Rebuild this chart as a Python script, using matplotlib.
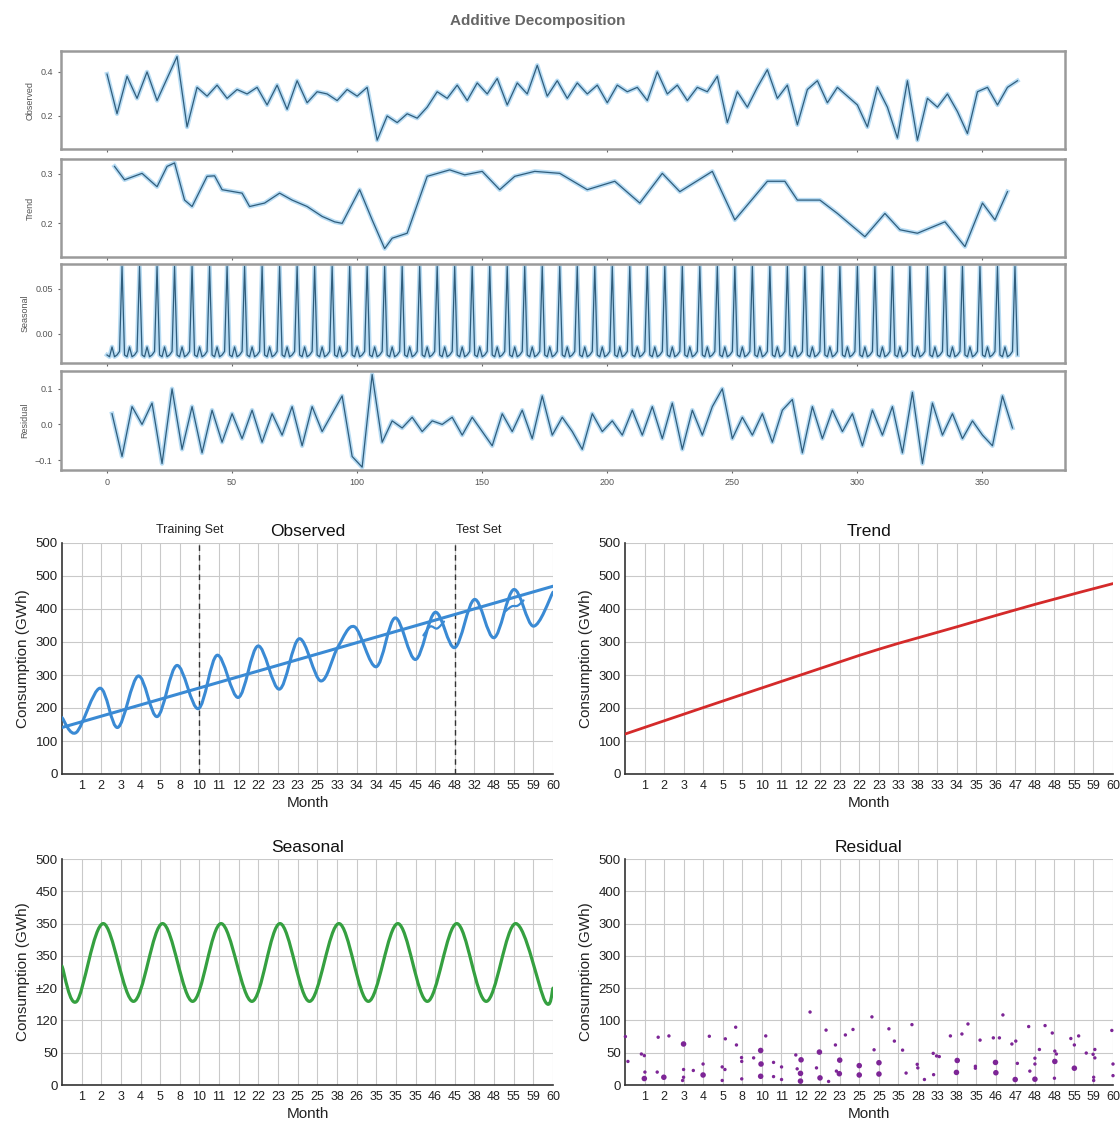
import numpy as np
import matplotlib
matplotlib.use("Agg")
import matplotlib.pyplot as plt
from matplotlib.path import Path
from matplotlib.patches import PathPatch

plt.rcParams["font.family"] = ["Liberation Sans", "DejaVu Sans"]

# ---------------------------------------------------------------------------
# top block: daily additive decomposition
# ---------------------------------------------------------------------------
OBS_DAYS = np.arange(0, 365, 4)
OBS_VALUES = [
    0.39, 0.21, 0.38, 0.28, 0.40, 0.27, 0.37, 0.47, 0.15, 0.33,
    0.29, 0.34, 0.28, 0.32, 0.30, 0.33, 0.25, 0.34, 0.23, 0.36,
    0.26, 0.31, 0.30, 0.27, 0.32, 0.29, 0.33, 0.09, 0.20, 0.17,
    0.21, 0.19, 0.24, 0.31, 0.28, 0.34, 0.27, 0.35, 0.30, 0.37,
    0.25, 0.35, 0.30, 0.43, 0.29, 0.36,
    0.28, 0.35, 0.30, 0.34, 0.26, 0.34, 0.31, 0.33, 0.27, 0.40,
    0.30, 0.34, 0.27, 0.33, 0.31, 0.38, 0.17, 0.31, 0.24, 0.33,
    0.41, 0.28, 0.34, 0.16, 0.32, 0.36, 0.26, 0.33, 0.29, 0.25,
    0.15, 0.33, 0.24, 0.10, 0.36, 0.09, 0.28, 0.24, 0.30, 0.22,
    0.12, 0.31, 0.33, 0.25, 0.33, 0.36,
]

TREND_DAYS = [3, 7, 14, 20, 24, 27, 31, 34, 40, 43, 46, 54, 57, 63, 69, 74,
              80, 86, 91, 94, 101, 106, 111, 114, 120, 128, 137, 143, 150,
              157, 163, 171, 181, 192, 203, 213, 222, 229, 242, 251, 264,
              271, 276, 285, 292, 303, 311, 317, 324, 335, 343, 350, 355,
              360]
TREND_VALUES = [0.315, 0.288, 0.301, 0.274, 0.315, 0.322, 0.247, 0.234,
                0.295, 0.296, 0.268, 0.261, 0.234, 0.241, 0.261, 0.247,
                0.234, 0.214, 0.203, 0.200, 0.268, 0.207, 0.149, 0.170,
                0.180, 0.295, 0.308, 0.298, 0.305, 0.268, 0.295, 0.305,
                0.301, 0.268, 0.285, 0.241, 0.301, 0.264, 0.305, 0.207,
                0.285, 0.285, 0.247, 0.247, 0.220, 0.173, 0.220, 0.187,
                0.180, 0.203, 0.153, 0.241, 0.207, 0.264]

# one week of the seasonal component, repeated over the year
SEASON_WEEK = [-0.024, -0.026, -0.015, -0.026, -0.024, -0.020, 0.075]
SEASON_DAYS = np.arange(365)
SEASON_VALUES = np.resize(SEASON_WEEK, SEASON_DAYS.size)

RESID_DAYS = np.arange(2, 363, 4)
RESID_VALUES = [
    0.03, -0.09, 0.05, 0.00, 0.06, -0.11, 0.10, -0.07, 0.05, -0.08,
    0.04, -0.05, 0.03, -0.04, 0.04, -0.05, 0.03, -0.03, 0.05, -0.06,
    0.05, -0.02, 0.03, 0.08, -0.09, -0.12, 0.14, -0.05, 0.01, -0.01,
    0.02, -0.02, 0.01, 0.00, 0.02, -0.03, 0.02, -0.02, -0.06, 0.03,
    -0.02, 0.04, -0.04, 0.08, -0.03, 0.02, -0.02, -0.07, 0.03, -0.02,
    0.01, -0.03, 0.04, -0.03, 0.05, -0.04, 0.06, -0.07, 0.04, -0.03,
    0.05, 0.10, -0.04, 0.02, -0.03, 0.03, -0.05, 0.04, 0.07, -0.08,
    0.05, -0.04, 0.04, -0.02, 0.03, -0.06, 0.04, -0.03, 0.05, -0.08,
    0.09, -0.11, 0.06, -0.03, 0.03, -0.04, 0.01, -0.03, -0.06, 0.08,
    -0.01,
]

TOP_PANELS = [
    ("Observed", OBS_DAYS, OBS_VALUES, (0.05, 0.495), [0.2, 0.4], ["0.2", "0.4"]),
    ("Trend", TREND_DAYS, TREND_VALUES, (0.132, 0.330), [0.2, 0.3], ["0.2", "0.3"]),
    ("Seasonal", SEASON_DAYS, SEASON_VALUES, (-0.033, 0.0778), [0.0, 0.05], ["0.00", "0.05"]),
    ("Residual", RESID_DAYS, RESID_VALUES, (-0.128, 0.15), [-0.1, 0.0, 0.1], ["\u22120.1", "0.0", "0.1"]),
]
TOP_XTICKS = [0, 50, 100, 150, 200, 250, 300, 350]

# ---------------------------------------------------------------------------
# bottom block: monthly toy decomposition (axis units 0..700, odd tick labels)
# ---------------------------------------------------------------------------
MONTH_POS = np.arange(1, 26)
OBS_XLABELS = ["1", "2", "3", "4", "5", "8", "10", "11", "12", "22", "23", "23", "25",
               "33", "34", "34", "45", "45", "46", "48", "32", "48", "55", "59", "60"]
TREND_XLABELS = ["1", "2", "3", "4", "5", "5", "10", "11", "12", "22", "23", "22", "23",
                 "33", "38", "33", "34", "35", "36", "47", "48", "48", "55", "59", "60"]
SEAS_XLABELS = ["1", "2", "3", "4", "5", "8", "10", "11", "12", "22", "23", "25", "25",
                "38", "26", "35", "35", "35", "46", "45", "38", "48", "55", "59", "60"]
RESID_XLABELS = ["1", "2", "3", "4", "5", "8", "10", "11", "12", "22", "23", "25", "25",
                 "35", "28", "33", "38", "35", "46", "47", "48", "48", "55", "59", "60"]

Y_POS = [0, 100, 200, 300, 400, 500, 600, 700]
OBS_YLABELS = ["0", "100", "200", "300", "300", "400", "500", "500"]
TREND_YLABELS = ["0", "100", "200", "300", "300", "400", "500", "500"]
SEAS_YLABELS = ["0", "50", "120", "\u00b120", "350", "350", "450", "500"]
RESID_YLABELS = ["0", "50", "100", "250", "300", "300", "400", "500"]

# observed: turning points of the wavy series
OBS_X = [0, 0.73, 1.93, 2.84, 3.88, 4.85, 5.85, 6.94, 7.9, 8.98, 9.98, 11.07,
         12.08, 13.17, 14.05, 14.9, 16.0, 16.96, 18.0, 19.0, 20.0, 21.0, 22.0,
         23.0, 24.0, 25.0]
OBS_Y = [171, 126, 260, 141, 297, 174, 329, 198, 360, 232, 388, 257, 410, 282,
         385, 446, 325, 473, 347, 490, 383, 529, 413, 559, 448, 551]
OBS_FIT_X = [0, 25]
OBS_FIT_Y = [141, 569]
FORECAST_A_X = [18.4, 18.75, 19.1, 19.45]
FORECAST_A_Y = [420, 447, 441, 462]
FORECAST_B_X = [22.55, 22.9, 23.2, 23.5]
FORECAST_B_Y = [492, 508, 510, 526]
TRAIN_SPLIT = 7
TEST_SPLIT = 20

TREND_X = [0, 4, 9, 13, 17, 21, 25]
TREND_Y = [121, 201, 300, 378, 446, 514, 577]

SEAS_X = [0, 0.75, 2.1, 3.64, 5.12, 6.65, 8.1, 9.67, 11.1, 12.6, 14.1, 15.6,
          17.1, 18.6, 20.1, 21.6, 23.1, 24.6, 25.0]
SEAS_Y = [368, 259, 500, 259, 500, 259, 500, 259, 500, 259, 500, 259, 500,
          259, 500, 259, 500, 259, 300]

RESID_X = [0.02, 0.15, 0.84, 0.99, 1.02, 0.99, 1.65, 1.70, 1.99, 2.25,
           3.0, 3.0, 3.0, 2.95, 3.5, 4.0, 4.0, 4.32, 4.98, 5.12,
           4.98, 5.14, 5.67, 5.71, 5.97, 5.98, 5.98, 6.59, 6.95, 6.97,
           6.95, 7.21, 7.61, 7.61, 8.02, 8.02, 8.75, 8.82, 9.02, 8.99,
           8.99, 9.48, 9.81, 9.96, 9.99, 10.43, 10.3, 10.78, 10.83, 11.0,
           10.98, 11.29, 11.68, 12.0, 12.0, 12.65, 12.76, 13.01, 13.01, 13.52,
           13.8, 14.22, 14.4, 14.7, 14.97, 15.0, 15.34, 15.79, 15.96, 16.1,
           15.81, 16.67, 17.02, 16.98, 17.26, 17.57, 17.95, 17.95, 18.19, 18.87,
           18.98, 19.0, 19.18, 19.36, 19.82, 20.02, 20.1, 19.99, 20.68, 20.74,
           21.0, 21.0, 21.0, 21.23, 21.52, 21.89, 22.02, 22.1, 22.02, 22.0,
           22.84, 23.02, 23.02, 23.24, 23.63, 23.98, 24.07, 24.07, 24.01, 24.01,
           24.94, 25.0, 25.0]
RESID_Y = [150, 73, 96, 91, 40, 20, 40, 148, 24, 152,
           127, 48, 24, 14, 45, 65, 31, 151, 56, 48,
           14, 143, 179, 124, 85, 73, 19, 84, 107, 65,
           27, 152, 70, 26, 56, 17, 93, 50, 78, 36,
           12, 226, 53, 102, 22, 11, 170, 124, 43, 77,
           35, 155, 172, 60, 31, 211, 109, 69, 34, 174,
           136, 108, 37, 187, 64, 53, 17, 98, 90, 88,
           32, 152, 76, 39, 158, 189, 58, 52, 139, 146,
           70, 38, 146, 217, 127, 136, 67, 17, 181, 43,
           83, 65, 18, 110, 184, 161, 105, 96, 73, 21,
           144, 124, 52, 152, 99, 95, 110, 84, 24, 14,
           169, 65, 29]
RESID_BIG = [0, 0, 0, 0, 0, 1, 0, 0, 1, 0,
             1, 0, 0, 0, 0, 0, 1, 0, 0, 0,
             0, 0, 0, 0, 0, 0, 0, 0, 1, 1,
             1, 0, 0, 0, 0, 0, 0, 0, 1, 1,
             1, 0, 0, 1, 1, 0, 0, 0, 0, 1,
             1, 0, 0, 1, 1, 0, 0, 1, 1, 0,
             0, 0, 0, 0, 0, 0, 0, 0, 0, 0,
             0, 0, 1, 1, 0, 0, 0, 0, 0, 0,
             1, 1, 0, 0, 0, 0, 0, 1, 0, 0,
             0, 0, 1, 0, 0, 0, 0, 0, 1, 0,
             0, 0, 1, 0, 0, 0, 0, 0, 0, 0,
             0, 0, 0]

BLUE = "#3a8ad4"
RED = "#d42a2a"
GREEN = "#35a040"
PURPLE = "#7d2596"


def smooth_path(xs, ys):
    """Cubic (Catmull-Rom style) path through the given data points."""
    pts = np.column_stack([xs, ys]).astype(float)
    n = len(pts)
    verts = [pts[0]]
    codes = [Path.MOVETO]
    for i in range(n - 1):
        p0 = pts[max(i - 1, 0)]
        p1 = pts[i]
        p2 = pts[i + 1]
        p3 = pts[min(i + 2, n - 1)]
        verts += [p1 + (p2 - p0) / 6.0, p2 - (p3 - p1) / 6.0, p2]
        codes += [Path.CURVE4] * 3
    return Path(verts, codes)


def smooth_line(ax, xs, ys, color, lw):
    ax.add_patch(PathPatch(smooth_path(xs, ys), fill=False, edgecolor=color,
                           lw=lw, capstyle="round", joinstyle="round", zorder=3))


def style_bottom(ax, title, xlabels, ylabels):
    ax.set_xlim(0, 25)
    ax.set_ylim(0, 700)
    ax.set_xticks(MONTH_POS)
    ax.set_xticklabels(xlabels)
    ax.set_yticks(Y_POS)
    ax.set_yticklabels(ylabels)
    ax.tick_params(axis="x", length=0, labelsize=9, pad=4, colors="#222222")
    ax.tick_params(axis="y", length=0, labelsize=9.5, pad=3, colors="#222222")
    ax.grid(True, color="#c9c9c9", lw=0.8)
    ax.set_axisbelow(True)
    for side in ("top", "right"):
        ax.spines[side].set_visible(False)
    for side in ("left", "bottom"):
        ax.spines[side].set_color("#333333")
        ax.spines[side].set_linewidth(1.2)
    ax.set_title(title, fontsize=12.5, pad=5, color="#111111")
    ax.set_xlabel("Month", fontsize=11, labelpad=3, color="#222222")
    ax.set_ylabel("Consumption (GWh)", fontsize=11, labelpad=4, color="#222222")


fig = plt.figure(figsize=(11.2, 11.22), dpi=100)
W, H = 1120.0, 1122.0

fig.text(538 / W, 1 - 21 / H, "Additive Decomposition", ha="center", va="center",
         fontsize=11, color="#666666", fontweight="bold")

top_boxes = [(51, 149), (159, 257), (264, 363), (371, 470)]
for k, ((name, xs, ys, ylim, yt, ytl), (y0, y1)) in enumerate(zip(TOP_PANELS, top_boxes)):
    ax = fig.add_axes([61 / W, 1 - y1 / H, 1004 / W, (y1 - y0) / H])
    ax.plot(xs, ys, color="#9fd0ef", lw=3.2, alpha=0.75, solid_joinstyle="round")
    ax.plot(xs, ys, color="#2f5d7c", lw=0.9, solid_joinstyle="round")
    ax.set_xlim(-18.4, 383)
    ax.set_ylim(*ylim)
    ax.set_yticks(yt)
    ax.set_yticklabels(ytl)
    ax.set_xticks(TOP_XTICKS)
    if k == 3:
        ax.set_xticklabels([str(t) for t in TOP_XTICKS])
    else:
        ax.set_xticklabels([])
    ax.tick_params(labelsize=6.5, colors="#666666", length=2.5, width=0.8,
                   labelcolor="#555555")
    ax.set_ylabel(name, fontsize=6.5, color="#555555", labelpad=4)
    for sp in ax.spines.values():
        sp.set_color("#9a9a9a")
        sp.set_linewidth(1.8)

# bottom panels
ax_obs = fig.add_axes([62 / W, 1 - 774 / H, 491 / W, 231 / H])
ax_tr = fig.add_axes([625 / W, 1 - 774 / H, 488 / W, 231 / H])
ax_se = fig.add_axes([62 / W, 1 - 1085 / H, 491 / W, 226 / H])
ax_re = fig.add_axes([625 / W, 1 - 1085 / H, 488 / W, 226 / H])

style_bottom(ax_obs, "Observed", OBS_XLABELS, OBS_YLABELS)
ax_obs.plot(OBS_FIT_X, OBS_FIT_Y, color=BLUE, lw=2.2, solid_capstyle="round", zorder=3)
smooth_line(ax_obs, OBS_X, OBS_Y, BLUE, 2.2)
smooth_line(ax_obs, FORECAST_A_X, FORECAST_A_Y, BLUE, 1.6)
smooth_line(ax_obs, FORECAST_B_X, FORECAST_B_Y, BLUE, 1.6)
for xv in (TRAIN_SPLIT, TEST_SPLIT):
    ax_obs.axvline(xv, color="#333333", lw=1.0, ls=(0, (4, 3)), zorder=2)
tr = ax_obs.get_xaxis_transform()
ax_obs.text(6.5, 1.056, "Training Set", transform=tr, ha="center", va="center",
            fontsize=9, color="#222222")
ax_obs.text(21.2, 1.056, "Test Set", transform=tr, ha="center", va="center",
            fontsize=9, color="#222222")

style_bottom(ax_tr, "Trend", TREND_XLABELS, TREND_YLABELS)
smooth_line(ax_tr, TREND_X, TREND_Y, RED, 2.0)

style_bottom(ax_se, "Seasonal", SEAS_XLABELS, SEAS_YLABELS)
smooth_line(ax_se, SEAS_X, SEAS_Y, GREEN, 2.3)

style_bottom(ax_re, "Residual", RESID_XLABELS, RESID_YLABELS)
sizes = np.where(np.array(RESID_BIG) == 1, 16, 6)
ax_re.scatter(RESID_X, RESID_Y, s=sizes, color=PURPLE, edgecolors="none",
              zorder=3, clip_on=False)

fig.savefig("out.png", dpi=100, facecolor="white")
